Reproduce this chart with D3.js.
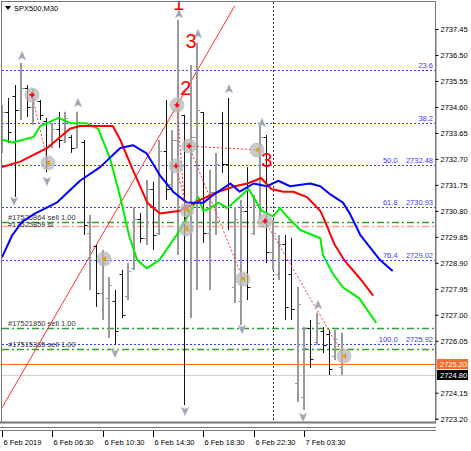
<!DOCTYPE html>
<html><head><meta charset="utf-8">
<script src="https://cdn.jsdelivr.net/npm/d3@7"></script>
<style>
body{margin:0;background:#fff;}
svg{display:block;font-family:"Liberation Sans",Arial,sans-serif;}
</style></head><body>
<svg id="c" width="471" height="451"></svg>
<script>
// ---------- data ----------
const title = "SPX500,M30";
const priceTicks = [2737.45,2736.50,2735.55,2734.60,2733.65,2732.70,2731.75,2730.80,2729.85,2728.90,2727.95,2727.00,2726.05,2724.15,2723.20];
const timeLabels = ["6 Feb 2019","6 Feb 06:30","6 Feb 10:30","6 Feb 14:30","6 Feb 18:30","6 Feb 22:30","7 Feb 03:30"];
const timeLabelBars = [0,8,16,24,32,40,48];
// OHLC bars [open, high, low, close]
const bars = [
[2733.2,2734.67,2732.92,2734.4],[2734.4,2734.93,2733.28,2733.7],[2735.0,2735.40,2731.31,2734.5],[2734.5,2736.21,2734.12,2735.3],
[2735.3,2735.40,2734.23,2734.6],[2734.6,2735.26,2733.94,2734.9],[2734.8,2734.85,2734.12,2734.3],[2734.1,2734.20,2732.22,2732.6],
[2733.2,2734.01,2733.10,2733.8],[2733.8,2734.42,2733.10,2733.4],[2733.4,2734.42,2733.28,2734.2],[2733.5,2733.57,2732.92,2733.1],
[2733.1,2734.42,2733.10,2734.0],[2733.3,2733.39,2729.92,2730.3],[2730.0,2730.65,2727.91,2730.4],[2729.5,2729.55,2727.29,2727.8],
[2727.8,2729.37,2726.81,2728.9],[2727.6,2728.38,2726.15,2728.1],[2727.5,2727.91,2725.90,2726.4],[2728.5,2728.64,2726.88,2727.0],
[2727.7,2728.89,2727.54,2728.6],[2728.7,2730.94,2728.64,2730.5],[2730.5,2730.72,2729.63,2729.8],[2729.8,2731.93,2729.55,2731.6],
[2731.6,2731.86,2729.37,2729.9],[2730.0,2733.39,2729.92,2733.0],[2733.0,2734.85,2731.20,2731.6],[2731.8,2733.76,2731.56,2733.4],
[2733.4,2737.78,2729.19,2734.6],[2734.3,2734.31,2723.70,2731.0],[2731.0,2736.13,2726.88,2733.5],[2733.5,2736.94,2727.91,2734.5],
[2734.4,2734.42,2729.63,2730.0],[2730.0,2732.30,2727.91,2731.5],[2731.5,2732.92,2729.92,2732.5],[2734.0,2734.42,2732.19,2732.5],
[2732.5,2734.93,2730.10,2731.0],[2728.0,2730.94,2727.43,2730.5],[2727.5,2731.20,2726.63,2730.8],[2730.8,2732.40,2727.54,2728.0],
[2730.0,2731.38,2729.92,2731.0],[2731.0,2734.01,2730.50,2733.5],[2733.5,2733.57,2728.89,2729.3],[2729.3,2730.47,2728.64,2730.0],
[2728.5,2729.92,2728.27,2729.6],[2729.6,2729.92,2726.81,2727.3],[2728.5,2729.81,2726.81,2727.2],[2724.5,2728.02,2723.81,2727.4],
[2724.0,2726.55,2723.52,2725.8],[2726.5,2726.81,2725.06,2725.4],[2726.0,2727.07,2725.90,2726.7],[2726.4,2726.55,2725.60,2725.9],
[2726.3,2726.45,2724.80,2725.0],[2725.5,2726.45,2725.35,2726.1],[2725.1,2726.34,2724.80,2725.5]
];
// moving averages: [barIndex, price]
const maGreen = [[0,2733.4],[1.7,2733.3],[5,2733.5],[6.1,2733.9],[9,2734.2],[10,2734.1],[11,2734.0],[13.5,2734.0],[15.3,2733.8],[17.2,2732.7],[18.8,2731.3],[20.2,2729.9],[21.5,2729.0],[23,2728.7],[25,2729.0],[28.3,2730.1],[31.2,2731.3],[32,2730.8],[33.1,2730.9],[34.4,2731.1],[35.8,2730.9],[39.2,2731.6],[41.3,2730.8],[43.1,2730.6],[44.2,2730.9],[45.3,2730.6],[47.4,2730.1],[50.6,2729.8],[51,2729.2],[52.6,2728.5],[54.2,2728.0],[56.8,2727.6],[59.5,2726.7]];
const maRed = [[0,2732.4],[2.9,2732.6],[7.2,2733.1],[10.8,2733.8],[12.4,2733.9],[15.6,2733.9],[17.6,2733.9],[18.8,2733.4],[20.8,2732.3],[23.1,2731.1],[25.1,2730.7],[28.3,2730.8],[31.5,2731.2],[34.4,2731.5],[37,2731.7],[39,2731.8],[41.2,2732.0],[42.8,2731.6],[44.7,2731.5],[46.3,2731.5],[48.5,2731.3],[50.6,2730.8],[51.2,2730.5],[52.8,2729.6],[54.4,2729.0],[57,2728.3],[59,2727.7]];
const maBlue = [[0,2729.1],[1.6,2729.9],[3.2,2730.4],[5.2,2730.7],[8.7,2731.1],[12.4,2731.9],[15.6,2732.4],[18.8,2733.1],[20.8,2733.2],[23,2732.9],[25.1,2732.1],[27.2,2731.5],[29.4,2731.1],[32,2731.1],[33.7,2731.4],[36.3,2731.8],[37.8,2731.5],[40,2731.8],[42.1,2731.7],[43.9,2731.9],[45.8,2731.7],[49,2731.8],[50.6,2731.7],[52.2,2731.4],[54.2,2731.1],[55.3,2730.7],[57,2729.9],[60.1,2729.0],[62.1,2728.6]];
// Fibonacci retracement
const fibHigh = 2739.04, fibLow = 2725.92;
const fibLevels = [0.236,0.382,0.5,0.618,0.764,1.0];
const fibLabels = ["23.6","38.2","50.0    2732.48","61.8    2730.93","76.4    2729.02","100.0    2725.92"];
// order lines
const orderGreen = [2730.40, 2726.51, 2725.75];
const orderGreenLabels = ["#17526864 sell 1.00","#17521850 sell 1.00","#17515365 sell 1.00"];
const orderOrange = [2730.25];
const orderOrangeLabels = ["#17525859 sl"];
const askPrice = 2725.20, bidPrice = 2724.80;
// trade markers [barIndex, price, type]
const circles = [[4.77,2735.04,"o"],[7.31,2732.55,"c"],[27.82,2734.67,"o"],[29.73,2733.17,"o"],[27.66,2732.44,"o"],[40.54,2733.03,"c"],[29.41,2730.83,"c"],[41.81,2730.43,"o"],[16.22,2729.04,"c"],[38.31,2728.31,"c"],[54.37,2725.49,"c"],[29.3,2730.14,"c"]];
const tradeLinks = [[0,1],[2,11],[3,5],[3,9],[4,6],[7,10]];
const upArrows = [[3.18,2736.43],[12.08,2734.71],[28.14,2737.96],[31.16,2737.23],[36.09,2735.22],[41.34,2733.98],[50.24,2727.32]];
const downArrows = [[7.15,2731.93],[1.91,2731.20],[17.97,2725.64],[29.09,2723.52],[47.85,2723.30],[38.16,2726.52]];
const waveLabels = [["1",28.06,2738.14],["3",30.05,2736.76],["2",29.2,2735.04],["3",42.1,2732.40]];
const trendLine = [[0,2723.6],[37,2738.3]];
const sepBar = 43.1;

// ---------- layout ----------
const svg = d3.select("#c");
const L = 2, R = 435, T = 2, B = 422;
const x = d3.scaleLinear().domain([0, 54]).range([2, 341.7]);
const y = d3.scaleLinear().domain([2723.20, 2737.45]).range([418.7, 29]);

svg.append("clipPath").attr("id", "plot").append("rect").attr("x", L).attr("y", T).attr("width", R - L).attr("height", B - T);
const g = svg.append("g").attr("clip-path", "url(#plot)");
const hy = p => Math.round(y(p)) + 0.5;

// fib lines
fibLevels.forEach((lv, i) => {
  const p = fibHigh - lv * (fibHigh - fibLow);
  g.append("line").attr("x1", L).attr("x2", R).attr("y1", hy(p)).attr("y2", hy(p))
    .attr("stroke", "#3c3cff").attr("stroke-width", 1).attr("stroke-dasharray", "2,2");
  svg.append("text").attr("x", 433).attr("y", hy(p) - 2.5).attr("text-anchor", "end")
    .attr("font-size", 7.5).attr("fill", "#3c3cff").style("white-space", "pre").text(fibLabels[i]);
});

// order lines
orderGreen.forEach((p, i) => {
  g.append("line").attr("x1", L).attr("x2", R).attr("y1", hy(p)).attr("y2", hy(p))
    .attr("stroke", "#2f9f2f").attr("stroke-width", 1.3).attr("stroke-dasharray", "7,3,2,3");
  g.append("text").attr("x", 8).attr("y", hy(p) - 2.5).attr("font-size", 7.5).attr("fill", "#333").text(orderGreenLabels[i]);
});
orderOrange.forEach((p, i) => {
  g.append("line").attr("x1", L).attr("x2", R).attr("y1", hy(p)).attr("y2", hy(p))
    .attr("stroke", "#ff9f85").attr("stroke-width", 1.3).attr("stroke-dasharray", "7,3,2,3");
  g.append("text").attr("x", 8).attr("y", hy(p)).attr("font-size", 7.5).attr("fill", "#333").text(orderOrangeLabels[i]);
});
// bid / ask
g.append("line").attr("x1", L).attr("x2", R).attr("y1", hy(askPrice)).attr("y2", hy(askPrice)).attr("stroke", "#ff6a2a");
g.append("line").attr("x1", L).attr("x2", R).attr("y1", hy(bidPrice)).attr("y2", hy(bidPrice)).attr("stroke", "#d0d0d0");

// separator
g.append("line").attr("x1", Math.round(x(sepBar)) + 0.5).attr("x2", Math.round(x(sepBar)) + 0.5).attr("y1", T).attr("y2", 432)
  .attr("stroke", "#333").attr("stroke-dasharray", "2,2");

// trend line
g.append("line").attr("x1", x(trendLine[0][0])).attr("y1", y(trendLine[0][1])).attr("x2", x(trendLine[1][0])).attr("y2", y(trendLine[1][1]))
  .attr("stroke", "#ff3030").attr("stroke-width", 1);

// bars
bars.forEach((b, i) => {
  const [o, h, l, c] = b;
  const up = c >= o;
  const xc = up ? Math.round(x(i)) : Math.round(x(i)) + 0.5;
  const col = up ? "#9a9a9a" : "#111";
  g.append("line").attr("x1", xc).attr("x2", xc).attr("y1", y(h)).attr("y2", y(l)).attr("stroke", col).attr("stroke-width", up ? 2 : 1);
  g.append("line").attr("x1", xc - 3).attr("x2", xc).attr("y1", hy(o)).attr("y2", hy(o)).attr("stroke", col);
  g.append("line").attr("x1", xc).attr("x2", xc + 3).attr("y1", hy(c)).attr("y2", hy(c)).attr("stroke", col);
});

// MAs
const lineGen = d3.line().x(d => x(d[0])).y(d => y(d[1]));
[[maGreen, "#00ee00"], [maRed, "#ff0000"], [maBlue, "#0000ff"]].forEach(([d, c]) => {
  g.append("path").attr("d", lineGen(d)).attr("fill", "none").attr("stroke", c).attr("stroke-width", 2).attr("stroke-linejoin", "round");
});

// trade links
tradeLinks.forEach(([a, b]) => {
  g.append("line").attr("x1", x(circles[a][0])).attr("y1", y(circles[a][1])).attr("x2", x(circles[b][0])).attr("y2", y(circles[b][1]))
    .attr("stroke", "#ff3030").attr("stroke-width", 1).attr("stroke-dasharray", "2,2");
});
// circles
circles.forEach(([i, p, t]) => {
  g.append("circle").attr("cx", x(i)).attr("cy", y(p)).attr("r", 7.5).attr("fill", "#b8b8b8").attr("opacity", 0.75);
  if (t === "o") {
    g.append("path").attr("d", d3.symbol(d3.symbolCross, 14)()).attr("transform", `translate(${x(i)},${y(p)})`).attr("fill", "#ff0000");
  } else {
    g.append("path").attr("d", "M2,-3L-2,0L2,3Z").attr("transform", `translate(${x(i)},${y(p)})`).attr("fill", "#e0a000");
  }
});
// arrows
const arrowUp = "M0,-6L4,3L0,1L-4,3Z";
upArrows.forEach(([i, p]) => {
  g.append("path").attr("d", arrowUp).attr("transform", `translate(${x(i)},${y(p)})`).attr("fill", "#9aa4b4").attr("stroke", "#d0d4dc").attr("stroke-width", 0.5);
});
downArrows.forEach(([i, p]) => {
  g.append("path").attr("d", arrowUp).attr("transform", `translate(${x(i)},${y(p)}) rotate(180)`).attr("fill", "#9aa4b4").attr("stroke", "#d0d4dc").attr("stroke-width", 0.5);
});
// wave labels
waveLabels.forEach(([t, i, p]) => {
  g.append("text").attr("x", x(i)).attr("y", y(p)).attr("text-anchor", "middle").attr("font-size", 20).attr("fill", "#ff0000").text(t);
});

// frame
svg.append("rect").attr("x", L - 0.5).attr("y", T - 0.5).attr("width", R - L + 1).attr("height", B - T + 1).attr("fill", "none").attr("stroke", "#777").attr("stroke-width", 1);
svg.append("line").attr("x1", 0).attr("x2", R + 1).attr("y1", B + 0.5).attr("y2", B + 0.5).attr("stroke", "#777").attr("stroke-width", 2);
svg.append("line").attr("x1", 0).attr("x2", R + 1).attr("y1", 427.5).attr("y2", 427.5).attr("stroke", "#777");
svg.append("line").attr("x1", 0).attr("x2", R + 1).attr("y1", 430.5).attr("y2", 430.5).attr("stroke", "#777");

// title
svg.append("path").attr("d", "M5,6L11,6L8,10Z").attr("fill", "#000");
svg.append("text").attr("x", 14).attr("y", 11).attr("font-size", 7.5).attr("fill", "#000").text(title);

// y axis
const yAxis = d3.axisRight(y).tickValues(priceTicks).tickSize(3).tickFormat(d3.format(".2f"));
const ya = svg.append("g").attr("transform", `translate(${R + 0.5},0)`).call(yAxis);
ya.select(".domain").attr("stroke", "#777");
ya.selectAll("text").attr("font-size", 7.5).attr("font-family", "Liberation Sans, Arial, sans-serif").attr("fill", "#000").attr("x", 5);
ya.selectAll("line").attr("stroke", "#000");
// price labels
[[askPrice, "#ff6a2a"], [bidPrice, "#000"]].forEach(([p, c]) => {
  const yy = Math.round(y(p));
  svg.append("rect").attr("x", R + 2).attr("y", yy - 5).attr("width", 31).attr("height", 10).attr("fill", c);
  svg.append("text").attr("x", R + 5).attr("y", yy + 3).attr("font-size", 7.5).attr("fill", "#fff").text(d3.format(".2f")(p));
});

// x axis
const xa = svg.append("g");
timeLabels.forEach((t, k) => {
  const xx = Math.round(x(timeLabelBars[k])) + 0.5;
  xa.append("line").attr("x1", xx).attr("x2", xx).attr("y1", 431).attr("y2", 437).attr("stroke", "#000");
  xa.append("text").attr("x", xx + 1).attr("y", 445).attr("font-size", 7.5).attr("fill", "#000").text(t);
});
</script></body></html>
